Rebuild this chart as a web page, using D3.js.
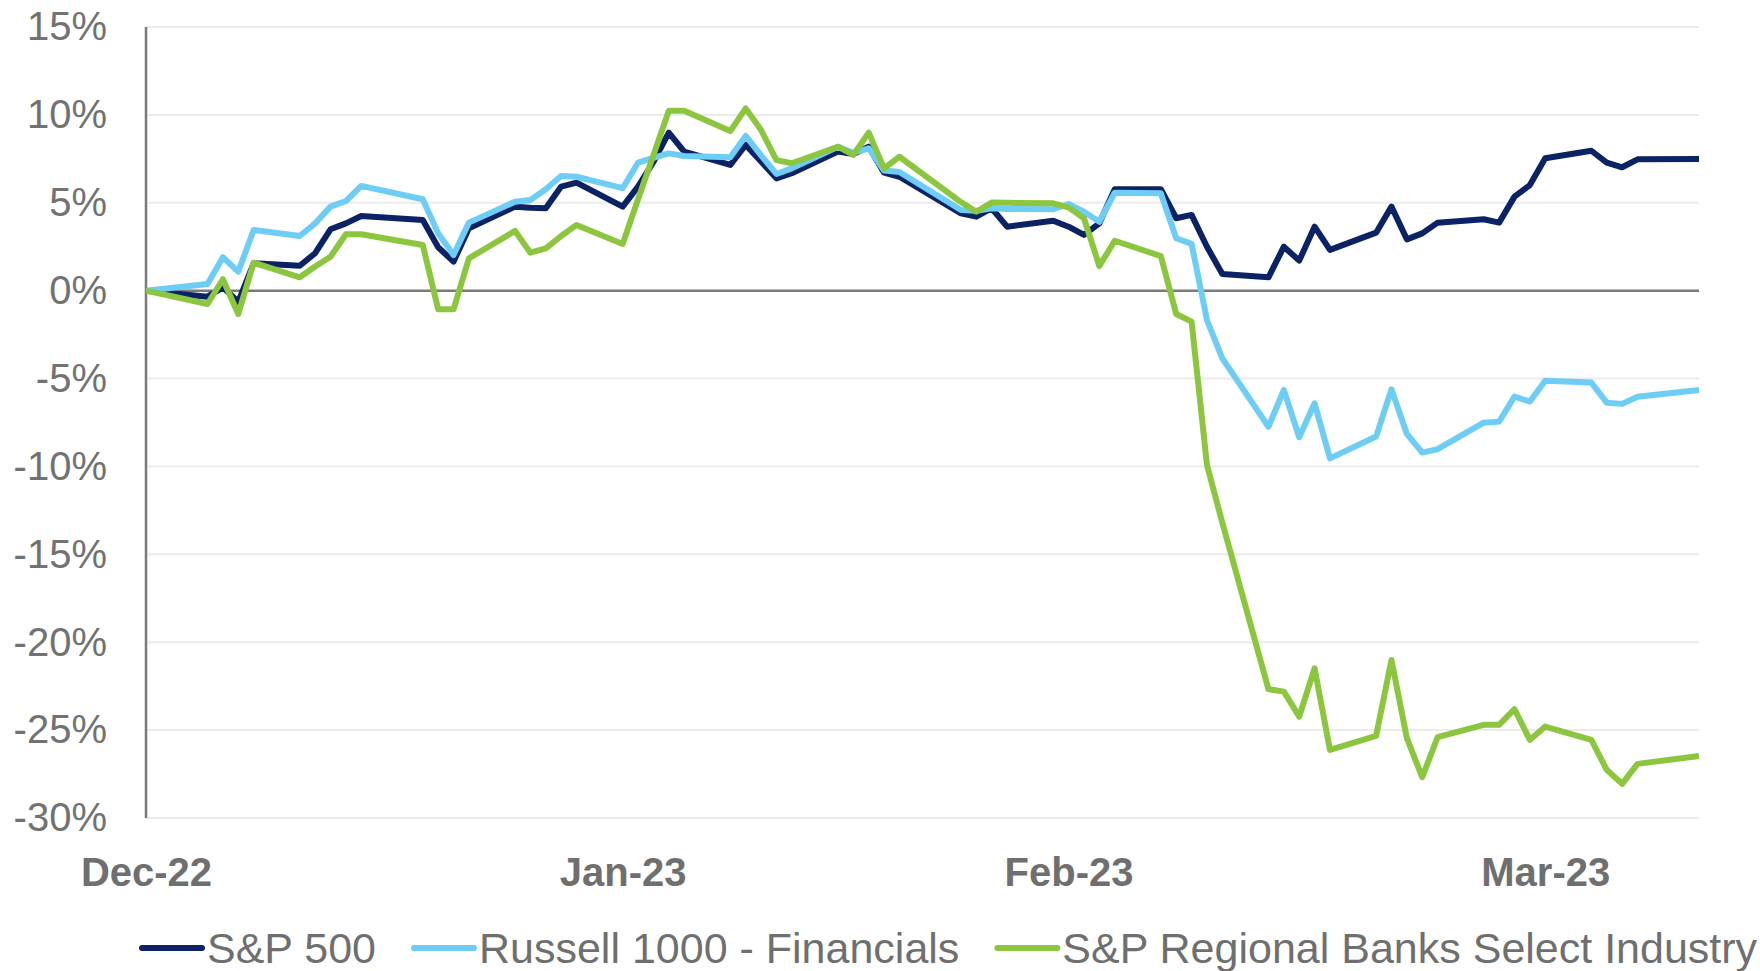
<!DOCTYPE html>
<html>
<head>
<meta charset="utf-8">
<script src="https://cdn.jsdelivr.net/npm/d3@7"></script>
<style>
  html, body { margin: 0; padding: 0; background: #ffffff; }
  svg { display: block; }
  text { font-family: "Liberation Sans", Arial, Helvetica, sans-serif; }
</style>
</head>
<body>
<svg id="chart" width="1760" height="971"></svg>
<script>
// ---------- DATA ----------
const dates = ["2022-12-30","2023-01-03","2023-01-04","2023-01-05","2023-01-06","2023-01-09","2023-01-10","2023-01-11","2023-01-12","2023-01-13","2023-01-17","2023-01-18","2023-01-19","2023-01-20","2023-01-23","2023-01-24","2023-01-25","2023-01-26","2023-01-27","2023-01-30","2023-01-31","2023-02-01","2023-02-02","2023-02-03","2023-02-06","2023-02-07","2023-02-08","2023-02-09","2023-02-10","2023-02-13","2023-02-14","2023-02-15","2023-02-16","2023-02-17","2023-02-21","2023-02-22","2023-02-23","2023-02-24","2023-02-27","2023-02-28","2023-03-01","2023-03-02","2023-03-03","2023-03-06","2023-03-07","2023-03-08","2023-03-09","2023-03-10","2023-03-13","2023-03-14","2023-03-15","2023-03-16","2023-03-17","2023-03-20","2023-03-21","2023-03-22","2023-03-23","2023-03-24","2023-03-27","2023-03-28","2023-03-29","2023-03-30","2023-03-31","2023-04-03","2023-04-04","2023-04-05","2023-04-06","2023-04-10"];

const sp500 = [0,-0.34,0.19,-0.63,1.56,1.42,2.13,3.49,3.83,4.25,4.02,2.47,1.65,3.55,4.78,4.72,4.69,5.92,6.15,4.78,5.92,7.32,8.99,7.91,7.15,8.29,7.35,6.39,6.68,7.91,7.78,8.19,6.71,6.48,4.40,4.21,4.69,3.64,3.98,3.64,3.17,3.83,5.77,5.77,4.12,4.31,2.50,0.95,0.76,2.50,1.71,3.64,2.32,3.30,4.78,2.92,3.26,3.87,4.06,3.87,5.35,6.01,7.53,7.96,7.28,7.02,7.47,7.49];

const russellFin = [0,0.38,1.90,1.08,3.45,3.11,3.83,4.78,5.10,5.96,5.20,3.26,2.03,3.87,5.06,5.16,5.77,6.52,6.48,5.83,7.28,7.55,7.81,7.66,7.59,8.80,7.70,6.64,6.96,8.19,7.85,8.10,6.83,6.75,4.59,4.55,4.69,4.65,4.63,4.93,4.49,3.92,5.57,5.54,2.98,2.66,-1.67,-3.85,-7.74,-5.65,-8.34,-6.41,-9.54,-8.30,-5.61,-8.15,-9.21,-9.02,-7.51,-7.45,-6.03,-6.31,-5.12,-5.23,-6.37,-6.44,-6.03,-5.65];

const regionalBanks = [0,-0.76,0.65,-1.33,1.59,0.76,1.37,1.93,3.21,3.21,2.60,-1.06,-1.06,1.84,3.40,2.16,2.41,3.11,3.74,2.66,5.20,7.70,10.24,10.24,9.08,10.37,9.14,7.43,7.25,8.19,7.72,8.99,6.96,7.62,5.04,4.49,5.01,5.00,4.97,4.74,4.12,1.40,2.84,1.97,-1.33,-1.76,-9.92,-13.2,-22.67,-22.81,-24.23,-21.48,-26.13,-25.33,-21.01,-25.46,-27.68,-25.40,-24.70,-24.70,-23.81,-25.56,-24.80,-25.56,-27.26,-28.06,-26.92,-26.47];

const seriesNames = ["S&P 500", "Russell 1000 - Financials", "S&P Regional Banks Select Industry"];
const seriesColors = ["#0b2265", "#6dcdf5", "#8cc63f"];

const yTicks = [15, 10, 5, 0, -5, -10, -15, -20, -25, -30];
const xTickDates = ["2022-12-30", "2023-01-30", "2023-02-28", "2023-03-31"];
const xTickLabels = ["Dec-22", "Jan-23", "Feb-23", "Mar-23"];
const xDomain = ["2022-12-30", "2023-04-10"];

// ---------- LAYOUT ----------
const svg = d3.select("#chart");
svg.append("rect").attr("width", 1760).attr("height", 971).attr("fill", "#ffffff");

const plotLeft = 146, plotRight = 1699, plotTop = 27, plotBottom = 818;
const parse = d3.timeParse("%Y-%m-%d");

const x = d3.scaleTime()
  .domain(xDomain.map(parse))
  .range([plotLeft, plotRight]);
const y = d3.scaleLinear()
  .domain([-30, 15])
  .range([plotBottom, plotTop]);

// gridlines
svg.append("g").selectAll("line")
  .data(yTicks.filter(v => v !== 0))
  .join("line")
  .attr("x1", plotLeft).attr("x2", plotRight)
  .attr("y1", d => y(d)).attr("y2", d => y(d))
  .attr("stroke", "#ebebeb").attr("stroke-width", 2);

// y axis labels
const yAxis = d3.axisLeft(y).tickValues(yTicks).tickSize(0).tickPadding(0)
  .tickFormat(d => d + "%");
const yg = svg.append("g").attr("transform", `translate(107,0)`).call(yAxis);
yg.select(".domain").remove();
yg.selectAll("text")
  .attr("font-size", 40)
  .attr("fill", "#727272")
  .attr("font-family", "'Liberation Sans', Arial, sans-serif");

// x axis labels
const xAxis = d3.axisBottom(x).tickValues(xTickDates.map(parse)).tickSize(0).tickPadding(0)
  .tickFormat((d, i) => xTickLabels[i]);
const xg = svg.append("g").attr("transform", `translate(0,858)`).call(xAxis);
xg.select(".domain").remove();
xg.selectAll("text")
  .attr("font-size", 40)
  .attr("font-weight", "bold")
  .attr("fill", "#6f6f6f")
  .attr("dy", "0.7em")
  .attr("font-family", "'Liberation Sans', Arial, sans-serif");

// zero line
svg.append("line")
  .attr("x1", plotLeft).attr("x2", plotRight)
  .attr("y1", y(0)).attr("y2", y(0))
  .attr("stroke", "#7a7a7a").attr("stroke-width", 2.5);

// vertical axis line
svg.append("line")
  .attr("x1", plotLeft).attr("x2", plotLeft)
  .attr("y1", plotTop).attr("y2", plotBottom)
  .attr("stroke", "#7a7a7a").attr("stroke-width", 2.5);

// series
const allSeries = [sp500, russellFin, regionalBanks];
const parsedDates = dates.map(parse);
const line = d3.line()
  .x((d, i) => x(parsedDates[i]))
  .y(d => y(d));

svg.append("g").selectAll("path")
  .data(allSeries)
  .join("path")
  .attr("d", d => line(d))
  .attr("fill", "none")
  .attr("stroke", (d, i) => seriesColors[i])
  .attr("stroke-width", 6)
  .attr("stroke-linejoin", "round")
  .attr("stroke-linecap", "butt");

// legend
const legend = svg.append("g");
let lx = 142;
const ly = 948;
seriesNames.forEach((name, i) => {
  legend.append("line")
    .attr("x1", lx).attr("x2", lx + 60)
    .attr("y1", ly).attr("y2", ly)
    .attr("stroke", seriesColors[i]).attr("stroke-width", 6)
    .attr("stroke-linecap", "round");
  const t = legend.append("text")
    .attr("x", lx + 65).attr("y", ly)
    .attr("dominant-baseline", "central")
    .attr("font-size", 43)
    .attr("fill", "#6f6f6f")
    .text(name);
  lx = lx + 65 + t.node().getComputedTextLength() + 38;
});
</script>
</body>
</html>
